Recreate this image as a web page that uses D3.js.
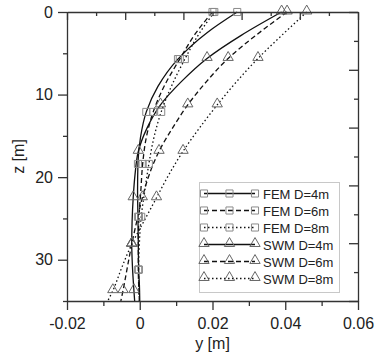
<!DOCTYPE html>
<html lang="en">
  <head>
    <meta charset="utf-8">
    <script src="https://d3js.org/d3.v7.min.js"></script>
    <title>Pile deflection</title>
    <style>
      body { margin: 0; background: #fff; }
      text { font-family: "Liberation Sans", Arial, sans-serif; fill: #222; }
    </style>
  </head>
  <body>
  <script type="text/javascript">

    // depth points (m) at which the curves were read
    var femDepth = [0, 2.5, 5.7, 9, 12.1, 15.2, 18.4, 21.6, 24.8, 28, 31.2, 33, 35];
    var swmDepth = [0, 2.8, 5.625, 8.4, 11.25, 14.06, 16.875, 19.7, 22.5, 25.3, 28.125, 30.9, 33.75, 35];
    // which of those points carry a marker
    var femMarked = [0, 2, 4, 6, 8, 10];
    var swmMarked = [0, 2, 4, 6, 8, 10, 12];

    // lateral displacement y (m)
    var fem4 = [0.0268, 0.0185, 0.0105, 0.0050, 0.0018, 0.0002, -0.0005, -0.0006, -0.0005, -0.0004, -0.0003, -0.0001, 0.0000];
    var fem6 = [0.0200, 0.0155, 0.0110, 0.0067, 0.0037, 0.0018, 0.0008, 0.0003, -0.0002, -0.0004, -0.0004, -0.0003, -0.0001];
    var fem8 = [0.0205, 0.0165, 0.0124, 0.0087, 0.0059, 0.0039, 0.0025, 0.0014, 0.0004, -0.0001, -0.0003, -0.0003, -0.0001];
    var swm4 = [0.0390, 0.0280, 0.0185, 0.0115, 0.0057, 0.0020, -0.0004, -0.0013, -0.0018, -0.0021, -0.0022, -0.0020, -0.0016, -0.0014];
    var swm6 = [0.0405, 0.0320, 0.0243, 0.0184, 0.0132, 0.0090, 0.0053, 0.0026, 0.0007, -0.0008, -0.0022, -0.0034, -0.0046, -0.0052];
    var swm8 = [0.0459, 0.0391, 0.0325, 0.0267, 0.0213, 0.0164, 0.0119, 0.0080, 0.0046, 0.0012, -0.0022, -0.0049, -0.0074, -0.0088];

    var seriesNames = ["FEM D=4m", "FEM D=6m", "FEM D=8m", "SWM D=4m", "SWM D=6m", "SWM D=8m"];

    var xTicks = [-0.02, 0, 0.02, 0.04, 0.06];
    var xTickLabels = ["-0.02", "0", "0.02", "0.04", "0.06"];
    var xMinor = [-0.01, 0.01, 0.03, 0.05];
    var zTicks = [0, 10, 20, 30];
    var zMinor = [5, 15, 25, 35];

    var width = 377, height = 355;
    var plotL = 67, plotR = 358, plotT = 12, plotB = 301;

    var svg = d3.select("body").append("svg")
      .attr("width", width)
      .attr("height", height);

    var x = d3.scaleLinear().domain([-0.02, 0.06]).range([plotL, plotR]);
    var z = d3.scaleLinear().domain([0, 35]).range([plotT, plotB]);
    // the top and right frame carry 10 unlabelled divisions
    var topDiv = d3.scaleLinear().domain([0, 10]).range([plotL, plotR]);
    var rightDiv = d3.scaleLinear().domain([0, 10]).range([plotT, plotB]);

    var series = [
      {name: seriesNames[0], depth: femDepth, marked: femMarked, vals: fem4, dash: null, mark: "square"},
      {name: seriesNames[1], depth: femDepth, marked: femMarked, vals: fem6, dash: "5,3", mark: "square"},
      {name: seriesNames[2], depth: femDepth, marked: femMarked, vals: fem8, dash: "1.5,2.5", mark: "square"},
      {name: seriesNames[3], depth: swmDepth, marked: swmMarked, vals: swm4, dash: null, mark: "tri"},
      {name: seriesNames[4], depth: swmDepth, marked: swmMarked, vals: swm6, dash: "5,3", mark: "tri"},
      {name: seriesNames[5], depth: swmDepth, marked: swmMarked, vals: swm8, dash: "1.5,2.5", mark: "tri"}
    ];

    var line = d3.line()
      .x(function(d) { return x(d[1]); })
      .y(function(d) { return z(d[0]); })
      .curve(d3.curveMonotoneY);

    var sq = d3.symbol().type(d3.symbolSquare).size(50);
    var tri = d3.symbol().type(d3.symbolTriangle).size(46);

    function drawMark(g, type, cx, cy) {
      g.append("path")
        .attr("d", type == "square" ? sq() : tri())
        .attr("transform", "translate(" + cx + "," + (type == "square" ? cy : cy - 1) + ")")
        .attr("fill", "none")
        .attr("stroke", type == "square" ? "#8a8a8a" : "#666")
        .attr("stroke-width", 1);
    }

    var plot = svg.append("g");

    series.forEach(function(s) {
      var pts = s.depth.map(function(d, i) { return [d, s.vals[i]]; });
      plot.append("path")
        .datum(pts)
        .attr("d", line)
        .attr("fill", "none")
        .attr("stroke", "#111")
        .attr("stroke-width", 1.3)
        .attr("stroke-dasharray", s.dash);
    });

    series.forEach(function(s) {
      var g = plot.append("g");
      s.marked.forEach(function(i) {
        drawMark(g, s.mark, x(s.vals[i]), z(s.depth[i]));
      });
    });

    // axes
    var axisColor = "#333";

    function styleAxis(g) {
      g.selectAll("path, line").attr("stroke", axisColor).attr("stroke-width", 1.3);
      g.selectAll("text")
        .style("font-family", '"Liberation Sans", Arial, sans-serif')
        .style("font-size", "16px")
        .attr("fill", "#222");
    }

    svg.append("g")
      .attr("transform", "translate(0," + plotB + ")")
      .call(d3.axisBottom(x).tickValues(xTicks).tickSize(9).tickSizeOuter(0).tickPadding(8)
        .tickFormat(function(d, i) { return xTickLabels[i]; }))
      .call(styleAxis);

    svg.append("g")
      .attr("transform", "translate(0," + plotB + ")")
      .call(d3.axisBottom(x).tickValues(xMinor).tickSize(5).tickSizeOuter(0).tickFormat(""))
      .call(styleAxis)
      .select(".domain").remove();

    svg.append("g")
      .attr("transform", "translate(" + plotL + ",0)")
      .call(d3.axisLeft(z).tickValues(zTicks).tickSize(9).tickSizeOuter(0).tickPadding(5))
      .call(styleAxis);

    svg.append("g")
      .attr("transform", "translate(" + plotL + ",0)")
      .call(d3.axisLeft(z).tickValues(zMinor).tickSize(4).tickSizeOuter(0).tickFormat(""))
      .call(styleAxis)
      .select(".domain").remove();

    // top frame, ticks pointing in
    svg.append("g")
      .attr("transform", "translate(0," + plotT + ")")
      .call(d3.axisBottom(topDiv).tickValues(d3.range(0, 11)).tickSizeOuter(0).tickFormat(""))
      .call(styleAxis)
      .selectAll(".tick line")
      .attr("y2", function(d) { return d % 2 == 0 ? 8 : 4; });

    // right frame, ticks pointing in
    svg.append("g")
      .attr("transform", "translate(" + plotR + ",0)")
      .call(d3.axisLeft(rightDiv).tickValues(d3.range(0, 11)).tickSizeOuter(0).tickFormat(""))
      .call(styleAxis)
      .selectAll(".tick line")
      .attr("x2", function(d) { return d % 2 == 0 ? -9 : -4; });

    // axis titles
    svg.append("text")
      .attr("x", (plotL + plotR) / 2)
      .attr("y", 349)
      .attr("text-anchor", "middle")
      .style("font-size", "16px")
      .text("y [m]");

    svg.append("text")
      .attr("transform", "translate(24," + ((plotT + plotB) / 2) + ") rotate(-90)")
      .attr("text-anchor", "middle")
      .style("font-size", "16px")
      .text("z [m]");

    // legend
    var lg = svg.append("g");
    lg.append("rect")
      .attr("x", 199.5).attr("y", 182.5)
      .attr("width", 140).attr("height", 110)
      .attr("fill", "#fff")
      .attr("stroke", "#c8c8c8")
      .attr("stroke-width", 1);

    series.forEach(function(s, i) {
      var ly = 193.5 + i * 17;
      lg.append("line")
        .attr("x1", 204).attr("x2", 255)
        .attr("y1", ly).attr("y2", ly)
        .attr("stroke", "#111")
        .attr("stroke-width", 1.3)
        .attr("stroke-dasharray", s.dash);
      [204, 229.5, 255].forEach(function(mx) { drawMark(lg, s.mark, mx, ly); });
      lg.append("text")
        .attr("x", 263)
        .attr("y", ly + 5)
        .style("font-size", "13px")
        .text(s.name);
    });

  </script>
  </body>
</html>
